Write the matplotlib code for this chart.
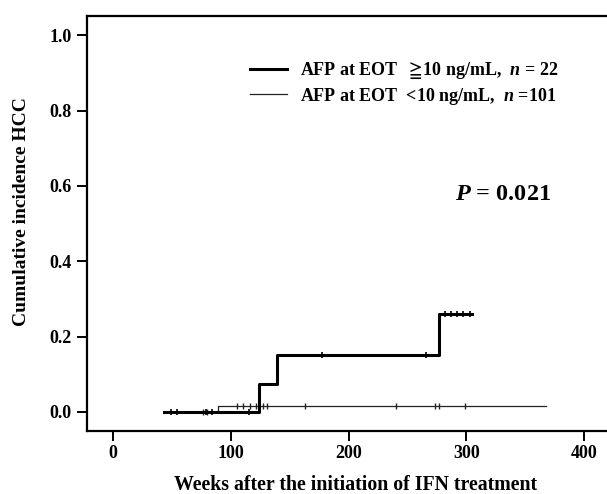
import numpy as np
import matplotlib
matplotlib.use("Agg")
import matplotlib.pyplot as plt
from matplotlib.lines import Line2D

plt.rcParams['font.family'] = ['Liberation Serif', 'DejaVu Serif', 'DejaVu Sans']
plt.rcParams['font.weight'] = 'bold'
plt.rcParams['mathtext.fontset'] = 'custom'
plt.rcParams['mathtext.it'] = 'Liberation Serif:italic:bold'
plt.rcParams['mathtext.rm'] = 'Liberation Serif:bold'
plt.rcParams['mathtext.bf'] = 'Liberation Serif:bold'
plt.rcParams['mathtext.fallback'] = 'stix'

# ---- data ----
high_t = [43, 124, 139, 277, 305]
high_y = [0.0, 0.073, 0.15, 0.26, 0.26]
high_censor = [49, 54, 79, 84, 115, 177, 266, 282, 287, 292, 297, 303]

low_t = [43, 89, 368]
low_y = [0.0, 0.015, 0.015]
low_censor = [76, 80, 105, 110, 116, 121, 127, 131, 163, 240, 273, 277, 299]

x_ticks = [0, 100, 200, 300, 400]
y_ticks = [0.0, 0.2, 0.4, 0.6, 0.8, 1.0]
y_ticklabels = ["0.0", "0.2", "0.4", "0.6", "0.8", "1.0"]

label_high = r"AFP at EOT  ${\geqq}\!$10 ng/mL,  $n$ = 22"
label_low = r"AFP at EOT  <10 ng/mL,  $n$ =101"
p_text = r"$P$ = 0.021"


def step_value(ts, ys, x):
    idx = np.searchsorted(np.asarray(ts), x, side='right') - 1
    idx = np.clip(idx, 0, len(ys) - 1)
    return np.asarray(ys)[idx]


fig = plt.figure(figsize=(6.07, 4.94), dpi=100)
ax = fig.add_axes([87.3 / 607, 1 - 430.7 / 494, (607 - 87.3) / 607, (430.7 - 16.5) / 494])

ax.step(low_t, low_y, where='post', color='#222222', lw=0.9)
ax.plot(low_censor, step_value(low_t, low_y, low_censor), ls='none',
        marker='|', ms=5, mew=1.0, color='#222222')
ax.step(high_t, high_y, where='post', color='black', lw=2.2)
ax.plot(high_censor, step_value(high_t, high_y, high_censor), ls='none',
        marker='|', ms=5, mew=1.2, color='black')

ax.set_xlim(-22, 419.5)
ax.set_ylim(-0.05, 1.05)
ax.set_xticks(x_ticks)
ax.set_yticks(y_ticks)
ax.set_yticklabels(y_ticklabels)
ax.tick_params(axis='both', direction='out', length=7.2, width=1.4, labelsize=13)
ax.tick_params(axis='y', pad=4.0)
ax.tick_params(axis='x', pad=3.4)
for s in ['left', 'bottom', 'top']:
    ax.spines[s].set_linewidth(1.6)
ax.spines['right'].set_visible(False)

ax.set_xlabel("Weeks after the initiation of IFN treatment", fontsize=14.3, fontweight='bold')
ax.set_ylabel("Cumulative incidence HCC", fontsize=14, fontweight='bold')
ax.xaxis.set_label_coords(0.516, -0.108)
ax.yaxis.set_label_coords(-0.11, 0.53)

handles = [Line2D([], [], color='black', lw=2.2), Line2D([], [], color='#222222', lw=0.9)]
leg = ax.legend(handles, [label_high, label_low], loc='upper left',
                bbox_to_anchor=(0.313, 0.895), frameon=False, fontsize=13,
                handlelength=2.05, handletextpad=0.72, labelspacing=0.25,
                borderpad=0, borderaxespad=0)

ax.text(290, 0.578, p_text, fontsize=17.5, fontweight='bold', ha='left', va='center')

fig.savefig("out.png", dpi=100)
